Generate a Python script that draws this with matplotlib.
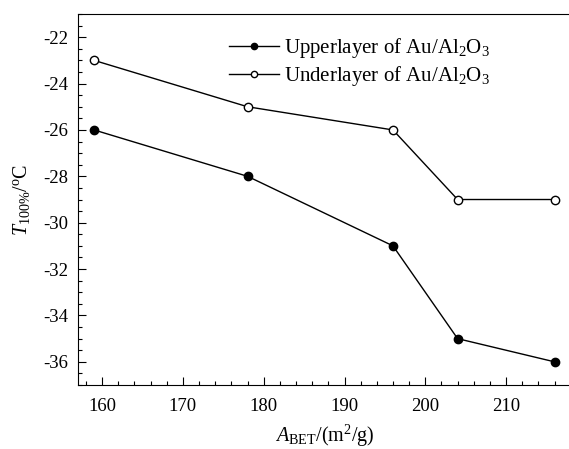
import numpy as np
import matplotlib
matplotlib.use('Agg')
import matplotlib.pyplot as plt
from matplotlib.ticker import MultipleLocator

plt.rcParams['font.family'] = 'Liberation Serif'
plt.rcParams['mathtext.fontset'] = 'custom'
plt.rcParams['mathtext.rm'] = 'Liberation Serif'
plt.rcParams['mathtext.it'] = 'Liberation Serif:italic'
plt.rcParams['axes.unicode_minus'] = False

# data
area = [159, 178, 196, 204, 216]
t_upper = [-26, -28, -31, -35, -36]
t_under = [-23, -25, -26, -29, -29]
labels = ['Upperlayer of Au/Al$_2$O$_3$', 'Underlayer of Au/Al$_2$O$_3$']

fig = plt.figure(figsize=(5.69, 4.49), dpi=100)
ax = fig.add_axes([0.137, 0.1425, 0.866, 0.8263])

ax.plot(area, t_upper, '-o', color='black', lw=1.0, ms=6,
        mfc='black', mec='black', label=labels[0])
ax.plot(area, t_under, '-o', color='black', lw=1.0, ms=6,
        mfc='white', mec='black', mew=1.0, label=labels[1])

ax.set_xlim(157, 218)
ax.set_ylim(-37, -21)
ax.xaxis.set_major_locator(MultipleLocator(10))
ax.xaxis.set_minor_locator(MultipleLocator(2))
ax.yaxis.set_major_locator(MultipleLocator(2))
ax.yaxis.set_minor_locator(MultipleLocator(0.5))
ax.tick_params(which='both', direction='in', top=False, right=False, labelsize=13.5)
ax.tick_params(which='major', length=6, width=0.8)
ax.tick_params(which='minor', length=3, width=0.8)
ax.tick_params(axis='y', pad=7)
ax.tick_params(axis='x', pad=9)
ax.spines['right'].set_visible(False)

ax.set_xlabel('$\\mathit{A}_{\\rm BET}$/(m$^2$/g)', fontsize=14.5, labelpad=6)
ax.set_ylabel('$\\mathit{T}_{100\\%}$/$^{\\rm o}$C', fontsize=14.5, labelpad=8)

ax.legend(loc='upper left', bbox_to_anchor=(0.298, 0.952), frameon=False,
          fontsize=15, handlelength=2.4, handletextpad=0.25, labelspacing=0.2,
          markerscale=0.75, borderpad=0.2, borderaxespad=0)

fig.savefig('out.png', dpi=100)
